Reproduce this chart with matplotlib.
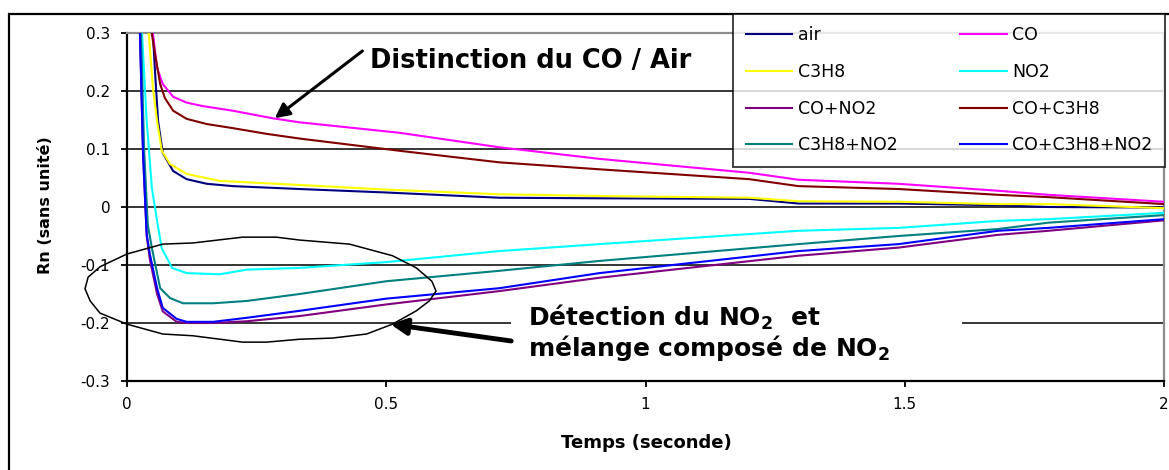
import numpy as np
import matplotlib
matplotlib.use("Agg")
import matplotlib.pyplot as plt
from matplotlib.patches import Rectangle, Polygon

plt.rcParams['font.family'] = ['DejaVu Sans']
plt.rcParams['axes.unicode_minus'] = False

# ---- data ----
t_air = [0.045, 0.05, 0.054, 0.06, 0.069, 0.089, 0.115, 0.154, 0.204, 0.333, 0.5, 0.718, 0.911, 1.2, 1.295, 1.488, 1.68, 1.777, 2.0]
rn_air = [0.45, 0.298, 0.234, 0.148, 0.093, 0.062, 0.048, 0.040, 0.036, 0.031, 0.025, 0.016, 0.015, 0.014, 0.006, 0.006, 0.003, 0.0, -0.001]

t_co = [0.045, 0.05, 0.058, 0.069, 0.089, 0.115, 0.146, 0.204, 0.281, 0.333, 0.525, 0.718, 0.911, 1.2, 1.295, 1.488, 1.68, 1.777, 2.0]
rn_co = [0.45, 0.298, 0.24, 0.212, 0.19, 0.18, 0.174, 0.166, 0.153, 0.146, 0.128, 0.103, 0.083, 0.059, 0.047, 0.04, 0.028, 0.021, 0.009]

t_c3h8 = [0.04, 0.042, 0.05, 0.058, 0.067, 0.083, 0.115, 0.179, 0.333, 0.5, 0.718, 0.911, 1.2, 1.295, 1.488, 1.68, 1.777, 2.0]
rn_c3h8 = [0.45, 0.298, 0.205, 0.148, 0.097, 0.074, 0.057, 0.045, 0.038, 0.03, 0.022, 0.019, 0.016, 0.01, 0.009, 0.005, 0.005, -0.002]

t_no2 = [0.025, 0.029, 0.038, 0.048, 0.058, 0.067, 0.087, 0.115, 0.179, 0.231, 0.333, 0.5, 0.718, 0.911, 1.295, 1.488, 1.68, 1.777, 2.0]
rn_no2 = [0.45, 0.298, 0.148, 0.033, -0.024, -0.071, -0.105, -0.114, -0.116, -0.108, -0.105, -0.095, -0.076, -0.064, -0.041, -0.036, -0.024, -0.021, -0.01]

t_co_no2 = [0.021, 0.025, 0.031, 0.038, 0.044, 0.058, 0.069, 0.096, 0.115, 0.166, 0.231, 0.333, 0.5, 0.718, 0.911, 1.295, 1.488, 1.68, 1.777, 2.0]
rn_co_no2 = [0.45, 0.3, 0.09, -0.05, -0.09, -0.15, -0.18, -0.198, -0.2, -0.2, -0.197, -0.188, -0.168, -0.145, -0.122, -0.084, -0.07, -0.048, -0.041, -0.023]

t_co_c3h8 = [0.044, 0.048, 0.054, 0.064, 0.073, 0.089, 0.115, 0.154, 0.204, 0.27, 0.333, 0.525, 0.718, 0.911, 1.2, 1.295, 1.488, 1.68, 1.777, 2.0]
rn_co_c3h8 = [0.45, 0.298, 0.264, 0.212, 0.188, 0.166, 0.152, 0.143, 0.136, 0.126, 0.118, 0.097, 0.077, 0.065, 0.048, 0.036, 0.031, 0.021, 0.017, 0.005]

t_c3h8_no2 = [0.023, 0.027, 0.033, 0.04, 0.048, 0.064, 0.083, 0.108, 0.166, 0.231, 0.333, 0.5, 0.718, 0.911, 1.295, 1.488, 1.68, 1.777, 2.0]
rn_c3h8_no2 = [0.45, 0.3, 0.1, -0.03, -0.071, -0.14, -0.157, -0.166, -0.166, -0.162, -0.150, -0.128, -0.110, -0.093, -0.064, -0.050, -0.038, -0.027, -0.014]

t_all = [0.021, 0.025, 0.031, 0.038, 0.044, 0.058, 0.069, 0.096, 0.115, 0.166, 0.231, 0.333, 0.5, 0.718, 0.911, 1.295, 1.488, 1.68, 1.777, 2.0]
rn_all = [0.45, 0.298, 0.091, -0.047, -0.081, -0.14, -0.174, -0.193, -0.198, -0.198, -0.191, -0.179, -0.158, -0.14, -0.114, -0.076, -0.064, -0.041, -0.036, -0.021]

labels = ['air', 'CO', 'C3H8', 'NO2', 'CO+NO2', 'CO+C3H8', 'C3H8+NO2', 'CO+C3H8+NO2']
colors = ['#000080', '#FF00FF', '#FFFF00', '#00FFFF', '#800080', '#800000', '#008080', '#0000FF']
series = [(t_air, rn_air), (t_co, rn_co), (t_c3h8, rn_c3h8), (t_no2, rn_no2),
          (t_co_no2, rn_co_no2), (t_co_c3h8, rn_co_c3h8), (t_c3h8_no2, rn_c3h8_no2), (t_all, rn_all)]

xticks = [0, 0.5, 1, 1.5, 2]
xticklabels = ['0', '0.5', '1', '1.5', '2']
yticks = [-0.3, -0.2, -0.1, 0, 0.1, 0.2, 0.3]
yticklabels = ['-0.3', '-0.2', '-0.1', '0', '0.1', '0.2', '0.3']

# hand-drawn loop round the NO2 curves (data coords)
loop = [(-0.081, -0.141), (-0.075, -0.121), (-0.052, -0.103), (0.0, -0.081), (0.069, -0.064),
        (0.127, -0.062), (0.223, -0.052), (0.288, -0.052), (0.333, -0.057), (0.429, -0.064),
        (0.512, -0.084), (0.558, -0.105), (0.588, -0.128), (0.596, -0.145), (0.583, -0.162),
        (0.558, -0.179), (0.512, -0.202), (0.462, -0.219), (0.396, -0.226), (0.333, -0.228),
        (0.269, -0.233), (0.223, -0.233), (0.127, -0.222), (0.069, -0.219), (0.0, -0.202),
        (-0.052, -0.183), (-0.071, -0.162)]

W, H = 1169, 470
fig = plt.figure(figsize=(W / 100, H / 100), dpi=100)
ax = fig.add_axes([127 / W, (H - 381) / H, (1164 - 127) / W, (381 - 33) / H])

lines = []
for (t, rn), lab, c in zip(series, labels, colors):
    ln, = ax.plot(t, rn, color=c, lw=1.5, label=lab, zorder=3)
    lines.append(ln)

ax.set_xlim(0, 2)
ax.set_ylim(-0.3, 0.3)
ax.set_xticks(xticks)
ax.set_xticklabels(xticklabels)
ax.set_yticks(yticks)
ax.set_yticklabels(yticklabels)
ax.tick_params(axis='both', labelsize=11, direction='out', width=1.3, color='black')
ax.tick_params(axis='y', length=4, pad=8)
ax.tick_params(axis='x', length=4.5, pad=7)

ax.set_axisbelow(True)
ax.yaxis.grid(True, color='black', lw=1.1)
for s in ['left', 'bottom']:
    ax.spines[s].set_linewidth(1.6)
for s in ['top', 'right']:
    ax.spines[s].set_color('#8c8c8c')
    ax.spines[s].set_linewidth(1.6)

fig.text(646 / W, 1 - 443 / H, 'Temps (seconde)', ha='center', va='center',
         fontsize=13, fontweight='bold')
fig.text(46 / W, 1 - 205 / H, 'Rn (sans unité)', ha='center', va='center',
         rotation=90, fontsize=11.5, fontweight='bold')

# outer chart frame
fig.add_artist(Rectangle((9 / W, -0.1), 1.2, 1 - 14 / H + 0.1, transform=fig.transFigure,
                         fill=False, lw=1.6, ec='black'))

# legend, two columns filled row-wise like the original
order = [0, 2, 4, 6, 1, 3, 5, 7]
leg = fig.legend([lines[i] for i in order], [labels[i] for i in order], ncol=2,
                 loc='upper left', bbox_to_anchor=(733 / W, 1 - 14 / H),
                 bbox_transform=fig.transFigure, fontsize=12.5, frameon=True,
                 fancybox=False, borderpad=0.72, borderaxespad=0, handlelength=2.7,
                 handletextpad=0.3, columnspacing=3.6, labelspacing=1.07)
leg.get_frame().set_edgecolor('black')
leg.get_frame().set_linewidth(1.3)

# annotation 1
ax.annotate('', xy=(0.285, 0.153), xytext=(0.454, 0.269),
            arrowprops=dict(arrowstyle='-|>', lw=2.2, color='black', mutation_scale=22,
                            shrinkA=0, shrinkB=0), zorder=5)
ax.text(0.468, 0.240, 'Distinction du CO / Air', fontsize=18.5, fontweight='bold',
        ha='left', va='baseline', zorder=5)

# annotation 2 with white patch over the grid
ax.add_patch(Rectangle((0.741, -0.262), 1.611 - 0.741, 0.1, fc='white', ec='none', zorder=1))
ax.add_patch(Polygon(loop, closed=True, fill=False, ec='black', lw=1.1, clip_on=False, zorder=4))
ax.annotate('', xy=(0.508, -0.202), xytext=(0.741, -0.231),
            arrowprops=dict(arrowstyle='-|>', lw=3.5, color='black', mutation_scale=24,
                            shrinkA=0, shrinkB=0), zorder=5)
ax.text(0.774, -0.205, r'Détection du NO$_\mathbf{2}$  et', fontsize=18, fontweight='bold',
        ha='left', va='baseline', zorder=5)
ax.text(0.774, -0.257, r'mélange composé de NO$_\mathbf{2}$', fontsize=18, fontweight='bold',
        ha='left', va='baseline', zorder=5)

fig.savefig('out.png', dpi=100)
